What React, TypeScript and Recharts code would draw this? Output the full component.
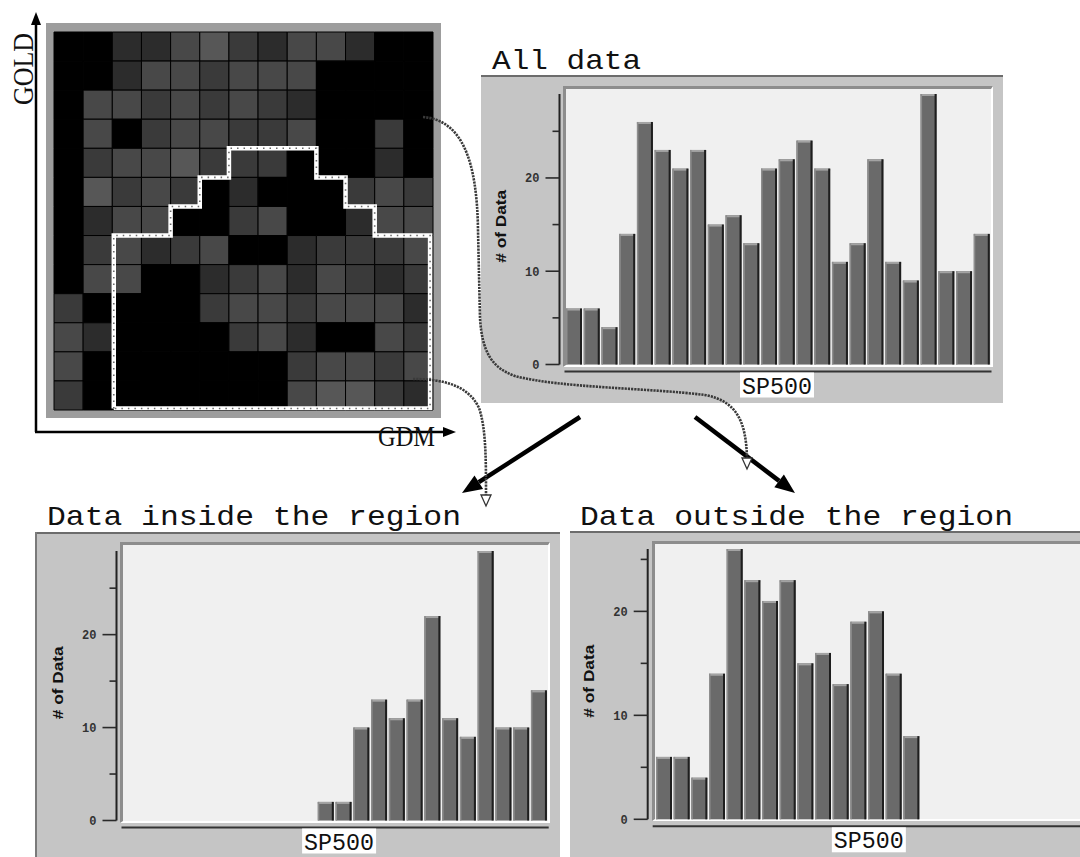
import React from 'react';
import { BarChart, Bar, XAxis, YAxis, ScatterChart, Scatter, ReferenceArea, Label } from 'recharts';

// ---------- data ----------
const bins = ['1', '2', '3', '4', '5', '6', '7', '8', '9', '10', '11', '12', '13', '14', '15', '16', '17', '18', '19', '20', '21', '22', '23', '24'];
const allData = [6, 6, 4, 14, 26, 23, 21, 23, 15, 16, 13, 21, 22, 24, 21, 11, 13, 22, 11, 9, 29, 10, 10, 14];
const insideData = [0, 0, 0, 0, 0, 0, 0, 0, 0, 0, 0, 2, 2, 10, 13, 11, 13, 22, 11, 9, 29, 10, 10, 14];
const outsideData = [6, 6, 4, 14, 26, 23, 21, 23, 15, 16, 13, 19, 20, 14, 8, 0, 0, 0, 0, 0, 0, 0, 0, 0];
const yTickValues = [0, 5, 10, 15, 20, 25];
const yTickLabels = [0, 10, 20];

// GOLD x GDM grid, rows listed top to bottom, shade level 0 (black) .. 4 (lightest)
const gridLevels = [
  [0, 0, 1, 1, 3, 4, 2, 1, 3, 3, 1, 0, 0],
  [0, 0, 1, 3, 3, 2, 3, 3, 3, 0, 0, 0, 0],
  [0, 3, 3, 2, 3, 2, 3, 2, 1, 0, 0, 0, 0],
  [0, 3, 0, 2, 3, 3, 2, 2, 3, 0, 0, 2, 0],
  [0, 2, 3, 3, 4, 2, 2, 2, 0, 0, 0, 1, 0],
  [0, 4, 2, 3, 2, 0, 1, 0, 0, 0, 2, 3, 2],
  [0, 1, 3, 3, 0, 0, 2, 3, 0, 0, 1, 3, 3],
  [0, 2, 3, 1, 2, 3, 0, 0, 1, 2, 2, 2, 3],
  [0, 3, 3, 0, 0, 1, 2, 3, 1, 3, 2, 1, 2],
  [2, 0, 0, 0, 0, 2, 3, 3, 2, 3, 3, 3, 1],
  [3, 1, 0, 0, 0, 0, 2, 3, 1, 0, 0, 3, 2],
  [3, 0, 0, 0, 0, 0, 0, 0, 2, 3, 3, 2, 3],
  [2, 0, 0, 0, 0, 0, 0, 0, 3, 4, 4, 2, 1],
];
const levelColors = ['#000000', '#2c2c2c', '#3a3a3a', '#484848', '#575757'];
const regionOutline = [
  { x: 2.05, y: 12.95 }, { x: 2.05, y: 7 }, { x: 4, y: 7 }, { x: 4, y: 6 }, { x: 5, y: 6 }, { x: 5, y: 5 },
  { x: 6, y: 5 }, { x: 6, y: 4 }, { x: 9, y: 4 }, { x: 9, y: 5 }, { x: 10, y: 5 }, { x: 10, y: 6 },
  { x: 11, y: 6 }, { x: 11, y: 7 }, { x: 12.9, y: 7 }, { x: 12.9, y: 12.95 }, { x: 2.05, y: 12.95 },
];

// ---------- histogram pieces ----------
const Bar3D = (props: any) => {
  const { x, y, width, height } = props;
  if (!height || height <= 0) return <g />;
  return (
    <g>
      <rect x={x} y={y} width={width} height={height} fill="#6a6a6a" />
      <rect x={x} y={y} width={width} height={2} fill="#a3a3a3" />
      <rect x={x} y={y} width={1.5} height={height} fill="#8e8e8e" />
      <rect x={x + width - 2} y={y} width={2} height={height} fill="#1e1e1e" />
    </g>
  );
};

const YTick = (props: any) => {
  const { x, y, payload } = props;
  const v = payload.value;
  const major = yTickLabels.indexOf(v) >= 0;
  return (
    <g>
      <line x1={x - (major ? 14 : 7)} x2={x} y1={y} y2={y} stroke="#2a2a2a" strokeWidth={1.6} />
      {major && (
        <text x={x - 20} y={y} dy={4.5} textAnchor="end" fontFamily="Liberation Mono" fontWeight="bold" fontSize={12} fill="#333">
          {v}
        </text>
      )}
    </g>
  );
};

const YLabel = (props: any) => {
  const vb = props.viewBox || {};
  const cx = vb.x + vb.width - 59;
  const cy = vb.y + vb.height / 2 - 3;
  return (
    <text x={cx} y={cy} transform={`rotate(-90, ${cx}, ${cy})`} textAnchor="middle" dominantBaseline="central"
      fontFamily="Liberation Sans" fontWeight="bold" fontSize={15} textLength={73} lengthAdjust="spacingAndGlyphs" fill="#111">
      # of Data
    </text>
  );
};

const makeXLabel = (labelShift: number) => (props: any) => {
  const vb = props.viewBox || {};
  const cx = vb.x + vb.width / 2 + labelShift;
  return (
    <g>
      <line x1={vb.x + 5} x2={vb.x + vb.width + 1} y1={vb.y + 7} y2={vb.y + 7} stroke="#333" strokeWidth={2} />
      <rect x={cx - 37} y={vb.y + 8} width={74} height={25} fill="#ffffff" />
      <text x={cx} y={vb.y + 29} textAnchor="middle" fontFamily="Liberation Mono" fontSize={24} textLength={70} lengthAdjust="spacingAndGlyphs" fill="#111">
        SP500
      </text>
    </g>
  );
};

type Spec = {
  px: number; py: number; pw: number; ph: number;
  axisX: number; yTop: number; y0: number; barsLeft: number; barsRight: number;
  bgX1: number; bgY1: number; bgX2: number; bgY2: number;
  yMax: number; labelShift: number; leftBorder?: boolean;
};

function Histogram({ spec, values }: { spec: Spec; values: number[] }) {
  const data = bins.map((b, i) => ({ bin: b, count: values[i] }));
  const ticks = yTickValues.filter((t) => t <= spec.yMax);
  const XLabel = makeXLabel(spec.labelShift);
  return (
    <div style={{ position: 'absolute', left: spec.px, top: spec.py, width: spec.pw, height: spec.ph, background: '#c5c5c5', overflow: 'hidden' }}>
      <div style={{ position: 'absolute', left: 0, top: 0, width: spec.pw, height: 1.5, background: '#6c6c6c' }} />
      {spec.leftBorder && <div style={{ position: 'absolute', left: 0, top: 0, width: 2, height: spec.ph, background: '#7a7a7a' }} />}
      <div style={{
        position: 'absolute', left: spec.bgX1 - spec.px, top: spec.bgY1 - spec.py,
        width: spec.bgX2 - spec.bgX1, height: spec.bgY2 - spec.bgY1, background: '#f0f0f0',
        borderTop: '3px solid #8d8d8d', borderLeft: '3px solid #8d8d8d', borderBottom: '2px solid #ffffff', borderRight: '2px solid #ffffff',
        boxSizing: 'border-box',
      }} />
      <div style={{ position: 'absolute', left: 0, top: 0 }}>
        <BarChart width={spec.pw} height={spec.ph} data={data} barCategoryGap={1}
          margin={{ top: spec.yTop - spec.py, right: spec.px + spec.pw - spec.barsRight, bottom: 0, left: 0 }}>
          <XAxis dataKey="bin" type="category" height={spec.py + spec.ph - spec.y0}
            padding={{ left: spec.barsLeft - spec.axisX, right: 0 }}
            tick={false} tickLine={false} axisLine={false}>
            <Label content={<XLabel />} />
          </XAxis>
          <YAxis type="number" domain={[0, spec.yMax]} ticks={ticks} interval={0} width={spec.axisX - spec.px}
            tickSize={0} tickMargin={0} tickLine={false} tick={<YTick />}
            axisLine={{ stroke: '#222', strokeWidth: 2 }}>
            <Label content={<YLabel />} />
          </YAxis>
          <Bar dataKey="count" shape={(p: any) => <Bar3D {...p} />} isAnimationActive={false} />
        </BarChart>
      </div>
    </div>
  );
}

const allSpec: Spec = {
  px: 481, py: 75, pw: 522, ph: 328,
  axisX: 559.5, yTop: 94, y0: 364.5, barsLeft: 565, barsRight: 990.5,
  bgX1: 563, bgY1: 86, bgX2: 993, bgY2: 367, yMax: 29, labelShift: 2,
};
const insideSpec: Spec = {
  px: 35, py: 532, pw: 525, ph: 325,
  axisX: 116.5, yTop: 551, y0: 820.5, barsLeft: 121.4, barsRight: 547.7,
  bgX1: 120, bgY1: 542, bgX2: 550, bgY2: 822.5, yMax: 29, labelShift: 7, leftBorder: true,
};
const outsideSpec: Spec = {
  px: 570, py: 531, pw: 510, ph: 326,
  axisX: 647.7, yTop: 549, y0: 819.3, barsLeft: 655, barsRight: 1079,
  bgX1: 652, bgY1: 541, bgX2: 1084, bgY2: 821.3, yMax: 26, labelShift: 5.5,
};

// ---------- grid (GOLD vs GDM) ----------
const EmptyShape = () => <g />;

function RegionGrid() {
  const cells = gridLevels.flatMap((row, r) => row.map((lvl, c) => ({ r, c, lvl })));
  return (
    <>
      <div style={{ position: 'absolute', left: 46, top: 23, width: 395, height: 395, background: '#9d9d9d' }} />
      <div style={{ position: 'absolute', left: 0, top: 0 }}>
        <ScatterChart width={460} height={460} margin={{ top: 32, left: 54, right: 27, bottom: 50 }}>
          <XAxis type="number" dataKey="x" domain={[0, 13]} hide allowDataOverflow />
          <YAxis type="number" dataKey="y" domain={[0, 13]} hide reversed allowDataOverflow />
          {cells.map((cell) => (
            <ReferenceArea key={`${cell.r}-${cell.c}`} x1={cell.c} x2={cell.c + 1} y1={cell.r} y2={cell.r + 1}
              fill={levelColors[cell.lvl]} fillOpacity={1} stroke="#000" strokeWidth={1} />
          ))}
          <Scatter data={regionOutline} dataKey="y" line={{ stroke: '#ffffff', strokeWidth: 4.5 }} lineType="joint" shape={<EmptyShape />} isAnimationActive={false} />
          <Scatter data={regionOutline} dataKey="y" line={{ stroke: '#6a6a6a', strokeWidth: 1.6, strokeDasharray: '1.5 5' }} lineType="joint" shape={<EmptyShape />} isAnimationActive={false} />
        </ScatterChart>
      </div>
    </>
  );
}

// ---------- annotations ----------
function Overlay() {
  const rope = { fill: 'none', stroke: '#3a3a3a', strokeWidth: 2.6, strokeDasharray: '2.2 1' } as any;
  return (
    <svg width={1080} height={857} style={{ position: 'absolute', left: 0, top: 0, pointerEvents: 'none' }}>
      {/* grid axes */}
      <line x1={36} y1={432} x2={36} y2={22} stroke="#000" strokeWidth={2.5} />
      <polygon points="36,12 31,25 41,25" fill="#000" />
      <line x1={35} y1={432} x2={446} y2={432} stroke="#000" strokeWidth={2.5} />
      <polygon points="456,432 443,427 443,437" fill="#000" />
      <text x={33} y={105} transform="rotate(-90, 33, 105)" fontFamily="Liberation Serif" fontSize={30} textLength={72} lengthAdjust="spacingAndGlyphs" fill="#111">GOLD</text>
      <text x={378} y={446} fontFamily="Liberation Serif" fontSize={30} textLength={57} lengthAdjust="spacingAndGlyphs" fill="#111">GDM</text>

      {/* titles */}
      <text x={492} y={69} fontFamily="Liberation Mono" fontSize={28} textLength={149} lengthAdjust="spacingAndGlyphs" fill="#111">All data</text>
      <text x={47} y={525} fontFamily="Liberation Mono" fontSize={28} textLength={414} lengthAdjust="spacingAndGlyphs" fill="#111">Data inside the region</text>
      <text x={580} y={525} fontFamily="Liberation Mono" fontSize={28} textLength={433} lengthAdjust="spacingAndGlyphs" fill="#111">Data outside the region</text>

      {/* thick arrows */}
      <line x1={580} y1={417} x2={478.8} y2={482.2} stroke="#000" strokeWidth={4.5} />
      <polygon points="462,493 483.1,488.9 474.5,475.5" fill="#000" />
      <line x1={695} y1={417} x2={779.1} y2={480.9} stroke="#000" strokeWidth={4.5} />
      <polygon points="795,493 774.3,487.3 783.9,474.5" fill="#000" />

      {/* dotted curved links */}
      <path d="M423,117 C462,120 477,160 478,230 L480,318 C482,352 492,368 515,376 C560,388 650,388 705,395 C736,401 746,420 747,458" {...rope} />
      <polygon points="742,458 752,458 747,469" fill="#fff" stroke="#333" strokeWidth={1.3} />
      <path d="M413,379 C440,379 468,384 479,408 C486,428 486,460 486,495" {...rope} />
      <polygon points="481,495 491,495 486,506" fill="#fff" stroke="#333" strokeWidth={1.3} />
    </svg>
  );
}

export default function App() {
  return (
    <div style={{ position: 'absolute', left: 0, top: 0, width: 1080, height: 857, background: '#ffffff', overflow: 'hidden' }}>
      <RegionGrid />
      <Histogram spec={allSpec} values={allData} />
      <Histogram spec={insideSpec} values={insideData} />
      <Histogram spec={outsideSpec} values={outsideData} />
      <Overlay />
    </div>
  );
}
